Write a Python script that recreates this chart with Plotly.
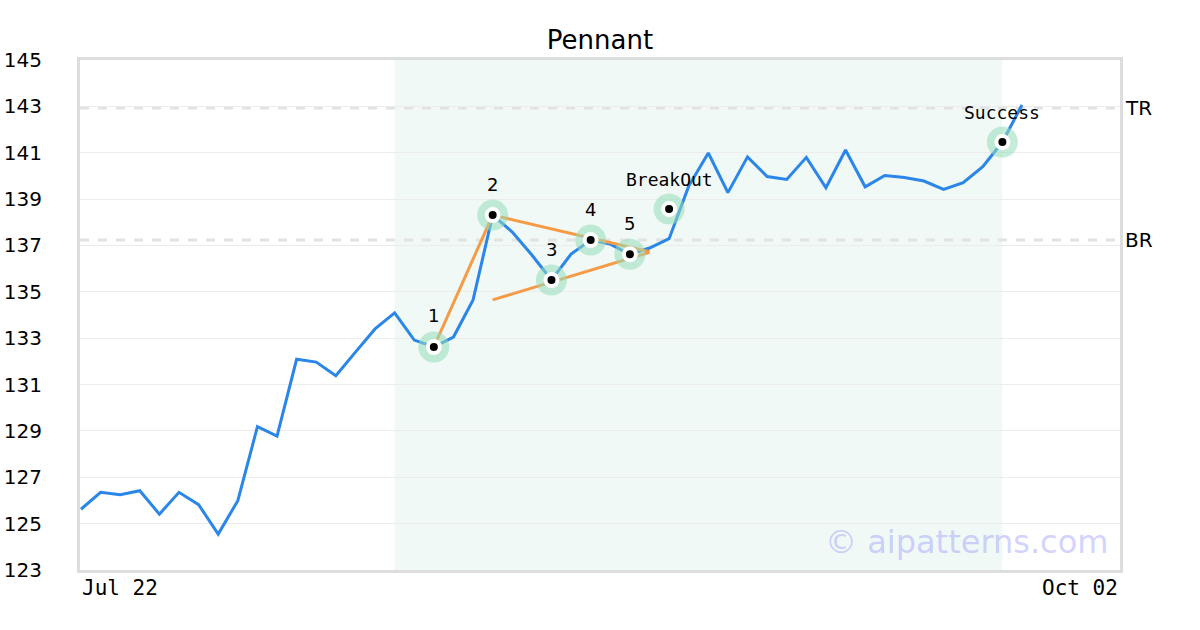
import plotly.graph_objects as go

# ---- data ----
prices = [125.62, 126.35, 126.25, 126.42, 125.41, 126.35, 125.82, 124.55, 125.99, 129.18,
          128.78, 132.09, 131.97, 131.38, 132.40, 133.40, 134.09, 132.92, 132.62, 133.05,
          134.65, 138.31, 137.58, 136.59, 135.51, 136.63, 137.23, 137.06, 136.62, 136.89,
          137.29, 139.56, 140.99, 139.28, 140.82, 139.97, 139.85, 140.80, 139.49, 141.12,
          139.53, 140.02, 139.93, 139.78, 139.42, 139.71, 140.40, 141.46, 143.06]
idx = list(range(len(prices)))

pivot_idx = [18, 21, 24, 26, 28]
pivot_val = [132.62, 138.31, 135.51, 137.23, 136.62]
pivot_lbl = ["1", "2", "3", "4", "5"]

event_idx = [30, 47]
event_val = [138.57, 141.46]
event_lbl = ["BreakOut", "Success"]

leg_x = [18, 21]
leg_y = [132.62, 138.31]
upper_x = [21, 29]
upper_y = [138.31, 136.73]
lower_x = [21, 29]
lower_y = [134.65, 136.70]

zone_start, zone_end = 16, 47
tr_level, br_level = 142.93, 137.23
x_tick_labels = ["Jul 22", "Oct 02"]
x_max = 53.0

BLUE = "#2a86e8"
ORANGE = "#f79a45"
HALO = "rgba(150,220,185,0.55)"

fig = go.Figure()

fig.add_trace(go.Scatter(x=idx, y=prices, mode="lines",
                         line=dict(color=BLUE, width=3), hoverinfo="skip"))
for xs, ys in [(leg_x, leg_y), (upper_x, upper_y), (lower_x, lower_y)]:
    fig.add_trace(go.Scatter(x=xs, y=ys, mode="lines",
                             line=dict(color=ORANGE, width=3), hoverinfo="skip"))

all_x = pivot_idx + event_idx
all_y = pivot_val + event_val
fig.add_trace(go.Scatter(x=all_x, y=all_y, mode="markers",
                         marker=dict(size=31, color=HALO, line=dict(width=0)),
                         hoverinfo="skip"))
fig.add_trace(go.Scatter(x=all_x, y=all_y, mode="markers",
                         marker=dict(size=12, color="black", line=dict(width=4, color="white")),
                         hoverinfo="skip"))

for x, y, t in zip(pivot_idx, pivot_val, pivot_lbl):
    fig.add_annotation(x=x, y=y, text=t, showarrow=False, yshift=31,
                       font=dict(family="DejaVu Sans", size=18, color="black"))
for x, y, t in zip(event_idx, event_val, event_lbl):
    fig.add_annotation(x=x, y=y, text=t, showarrow=False, yshift=30,
                       font=dict(family="DejaVu Sans Mono", size=18, color="black"))

# shaded pattern zone
fig.add_shape(type="rect", xref="x", yref="paper", x0=zone_start, x1=zone_end, y0=0, y1=1,
              fillcolor="rgba(205,235,222,0.3)", line=dict(width=0), layer="below")
# TR / BR dashed levels
for lvl, name in [(tr_level, "TR"), (br_level, "BR")]:
    fig.add_shape(type="line", xref="paper", yref="y", x0=0, x1=1, y0=lvl, y1=lvl,
                  line=dict(color="#e2e2e2", width=3, dash="dash"), layer="below")
    fig.add_annotation(xref="paper", yref="y", x=1.0, y=lvl, text=name, showarrow=False,
                       xanchor="left", xshift=3, font=dict(family="DejaVu Sans", size=20, color="black"))

# x tick labels
fig.add_annotation(xref="paper", yref="paper", x=0, y=0, yshift=-4, text=x_tick_labels[0],
                   showarrow=False, xanchor="left", yanchor="top",
                   font=dict(family="DejaVu Sans Mono", size=21, color="black"))
fig.add_annotation(xref="paper", yref="paper", x=1, y=0, yshift=-4, text=x_tick_labels[1],
                   showarrow=False, xanchor="right", yanchor="top",
                   font=dict(family="DejaVu Sans Mono", size=21, color="black"))

# watermark
fig.add_annotation(xref="paper", yref="paper", x=0.99, y=0.055, text="© aipatterns.com",
                   showarrow=False, xanchor="right", yanchor="middle",
                   font=dict(family="DejaVu Sans", size=32, color="rgba(140,140,255,0.4)"))

fig.update_layout(
    width=1200, height=630,
    margin=dict(l=80, r=80, t=60, b=60, autoexpand=False),
    paper_bgcolor="white", plot_bgcolor="white",
    showlegend=False,
    title=dict(text="Pennant", x=0.5, xanchor="center", y=1 - 40 / 630, yanchor="middle",
               automargin=False,
               font=dict(family="DejaVu Sans", size=26, color="black")),
    xaxis=dict(range=[-0.05, x_max], showgrid=False, zeroline=False, showticklabels=False,
               showline=True, mirror=True, linecolor="#dddddd", linewidth=3, ticks="",
               automargin=False),
    yaxis=dict(range=[123, 145], tick0=123, dtick=2, showgrid=True, gridcolor="#ececec",
               gridwidth=1, zeroline=False, showline=True, mirror=True, linecolor="#dddddd",
               linewidth=3, ticks="", ticklabelstandoff=31, automargin=False,
               tickfont=dict(family="DejaVu Sans", size=20, color="black")),
)

fig.write_html("out.html", config={"displayModeBar": False},
               post_script="document.body.style.margin='0';")
